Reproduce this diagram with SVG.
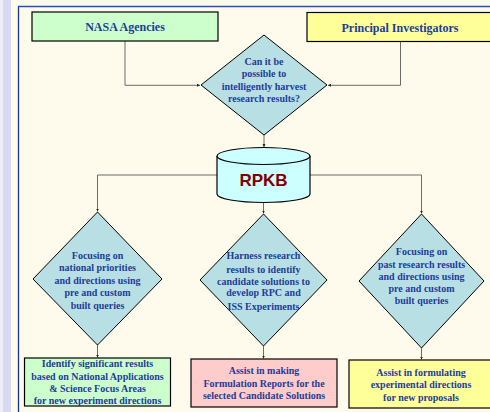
<svg xmlns="http://www.w3.org/2000/svg" width="490" height="412" viewBox="0 0 490 412">
<defs>
<style>
.t{font-family:"Liberation Serif","Times New Roman",serif;font-weight:bold;font-size:10px;fill:#1E3C9A;text-anchor:middle}
.th{font-size:12px}
.box{stroke:#000;stroke-width:1.2}
.dia{fill:#B8DFE3;stroke:#000;stroke-width:1}
.con{fill:none;stroke:#6B6B6B;stroke-width:1}
</style>
<marker id="ah" markerWidth="4" markerHeight="4" refX="3" refY="2" orient="auto" markerUnits="userSpaceOnUse">
<path d="M0,0.5 L3,2 L0,3.5 Z" fill="#222"/>
</marker>
</defs>
<rect x="0" y="0" width="490" height="412" fill="#FFFBEC"/>
<rect x="0" y="0" width="3" height="412" fill="#EEEEFA"/>
<rect x="3" y="0" width="8" height="412" fill="#D9D9F5"/>
<line x1="18.5" y1="6" x2="18.5" y2="412" stroke="#1A2F9E" stroke-width="1.3"/>
<line x1="18" y1="6.5" x2="490" y2="6.5" stroke="#2A4DB8" stroke-width="1.3"/>

<g id="connectors">
<path class="con" d="M125,41 V85.3 H200" marker-end="url(#ah)"/>
<path class="con" d="M400.5,42 V85.3 H328" marker-end="url(#ah)"/>
<path class="con" d="M264,135 V147" marker-end="url(#ah)"/>
<path class="con" d="M217,175 H97.5 V211.5" marker-end="url(#ah)"/>
<path class="con" d="M310,175 H421.5 V213.5" marker-end="url(#ah)"/>
<path class="con" d="M263.5,203 V213.5" marker-end="url(#ah)"/>
<path class="con" d="M97.5,345 V357.5" marker-end="url(#ah)"/>
<path class="con" d="M263.5,346 V358.5" marker-end="url(#ah)"/>
<path class="con" d="M421.5,348 V359.5" marker-end="url(#ah)"/>
</g>

<g id="nasa">
<rect class="box" x="32" y="12" width="186" height="29" fill="#CCFFCC"/>
<text class="t th" x="125" y="31">NASA Agencies</text>
</g>
<g id="pi">
<rect class="box" x="307" y="12.5" width="186" height="29" fill="#FFFF99"/>
<text class="t th" x="400" y="32">Principal Investigators</text>
</g>
<g id="decision">
<polygon class="dia" points="264,35 327,85 264,135 201,85"/>
<text class="t" x="264" y="65">Can it be</text>
<text class="t" x="264" y="77">possible to</text>
<text class="t" x="264" y="89.5">intelligently harvest</text>
<text class="t" x="264" y="102">research results?</text>
</g>
<g id="rpkb">
<path d="M217,156 V194 A46.5,8.5 0 0 0 310,194 V156" fill="#CCFFFF" stroke="#000" stroke-width="1.2"/>
<ellipse cx="263.5" cy="156" rx="46.5" ry="8.5" fill="#CCFFFF" stroke="#000" stroke-width="1.2"/>
<text x="263.5" y="186" font-family="Liberation Sans, Arial, sans-serif" font-weight="bold" font-size="17" fill="#800000" text-anchor="middle">RPKB</text>
</g>
<g id="d-left">
<polygon class="dia" points="97.5,212 162,279 97.5,345 33,279"/>
<text class="t" x="97.5" y="258.5">Focusing on</text>
<text class="t" x="97.5" y="271">national priorities</text>
<text class="t" x="97.5" y="283.5">and directions using</text>
<text class="t" x="97.5" y="296">pre and custom</text>
<text class="t" x="97.5" y="308.5">built queries</text>
</g>
<g id="d-mid">
<polygon class="dia" points="263.5,214 327,280 263.5,346 200,280"/>
<text class="t" x="263.5" y="259">Harness research</text>
<text class="t" x="263.5" y="272.5">results to identify</text>
<text class="t" x="263.5" y="284.5">candidate solutions to</text>
<text class="t" x="263.5" y="296">develop RPC and</text>
<text class="t" x="263.5" y="309.5">ISS Experiments</text>
</g>
<g id="d-right">
<polygon class="dia" points="421.5,214 484,281 421.5,348 359,281"/>
<text class="t" x="421.5" y="255">Focusing on</text>
<text class="t" x="421.5" y="267.5">past research results</text>
<text class="t" x="421.5" y="279.5">and directions using</text>
<text class="t" x="421.5" y="292">pre and custom</text>
<text class="t" x="421.5" y="304">built queries</text>
</g>
<g id="out-left">
<rect class="box" x="24.5" y="358" width="146" height="48" fill="#CCFFCC"/>
<text class="t" x="97.5" y="366.5">Identify significant results</text>
<text class="t" x="97.5" y="380">based on National Applications</text>
<text class="t" x="97.5" y="392">&amp; Science Focus Areas</text>
<text class="t" x="97.5" y="404">for new experiment directions</text>
</g>
<g id="out-mid">
<rect class="box" x="191" y="359" width="146" height="48" fill="#FFCCCC"/>
<text class="t" x="264" y="374">Assist in making</text>
<text class="t" x="264" y="387">Formulation Reports for the</text>
<text class="t" x="264" y="399">selected Candidate Solutions</text>
</g>
<g id="out-right">
<rect class="box" x="349" y="360" width="145" height="48" fill="#FFFF99"/>
<text class="t" x="421" y="375.5">Assist in formulating</text>
<text class="t" x="421" y="388">experimental directions</text>
<text class="t" x="421" y="400.5">for new proposals</text>
</g>
</svg>
